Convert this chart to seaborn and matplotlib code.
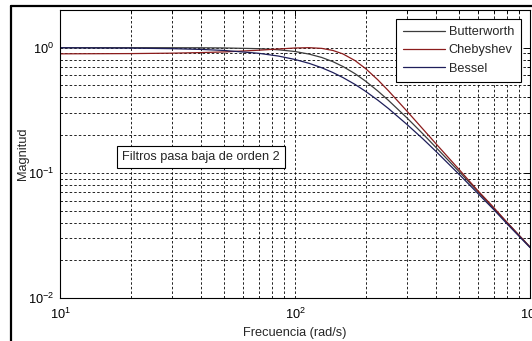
import numpy as np
import pandas as pd
import matplotlib
matplotlib.use('Agg')
import matplotlib.pyplot as plt
import seaborn as sns
from matplotlib.lines import Line2D
from matplotlib.ticker import LogLocator, FuncFormatter, NullFormatter

# ---- data ----
freq = [10, 20, 30, 40, 50, 70, 85, 100, 115, 130, 145, 160, 180, 200, 225,
        250, 300, 350, 400, 500, 600, 700, 800, 1000]
butterworth = [1.000, 1.000, 0.999, 0.998, 0.995, 0.982, 0.962, 0.932, 0.888,
               0.835, 0.773, 0.707, 0.620, 0.539, 0.451, 0.379, 0.274, 0.205,
               0.158, 0.102, 0.071, 0.052, 0.040, 0.0256]
chebyshev = [0.893, 0.897, 0.904, 0.914, 0.925, 0.954, 0.976, 0.994, 1.000,
             0.987, 0.950, 0.891, 0.789, 0.679, 0.554, 0.452, 0.310, 0.224,
             0.169, 0.106, 0.072, 0.053, 0.040, 0.0255]
bessel = [0.998, 0.992, 0.982, 0.968, 0.950, 0.902, 0.857, 0.805, 0.749,
          0.691, 0.633, 0.577, 0.509, 0.447, 0.381, 0.326, 0.243, 0.187,
          0.147, 0.097, 0.0685, 0.051, 0.039, 0.0253]
series_names = ["Butterworth", "Chebyshev", "Bessel"]
series_colors = ["#3c3c3c", "#8b1c1c", "#1e1e5a"]
x_label = "Frecuencia (rad/s)"
y_label = "Magnitud"
note = "Filtros pasa baja de orden 2"

df = pd.DataFrame({
    "freq": freq * 3,
    "mag": butterworth + chebyshev + bessel,
    "filtro": [series_names[0]] * len(freq) + [series_names[1]] * len(freq)
              + [series_names[2]] * len(freq),
})

FS = 9.2
sns.set_style("white")
plt.rcParams['font.family'] = ['Liberation Sans', 'DejaVu Sans']
plt.rcParams['mathtext.fontset'] = 'custom'
plt.rcParams['mathtext.rm'] = 'Liberation Sans'
plt.rcParams['mathtext.it'] = 'Liberation Sans'
plt.rcParams['font.size'] = FS

fig = plt.figure(figsize=(5.32, 3.41), dpi=100)
W, H = 532, 341
ax = fig.add_axes([60 / W, 1 - 298 / H, 470 / W, 288 / H])

sns.lineplot(data=df, x="freq", y="mag", hue="filtro", hue_order=series_names,
             palette=series_colors, linewidth=0.9, ax=ax, legend=False,
             estimator=None, sort=False)

ax.set_xscale('log')
ax.set_yscale('log')
ax.set_xlim(10, 1000)
ax.set_ylim(0.01, 2)

ax.xaxis.set_major_locator(LogLocator(base=10, numticks=10))
ax.yaxis.set_major_locator(LogLocator(base=10, numticks=10))
ax.xaxis.set_minor_locator(LogLocator(base=10, subs=np.arange(2, 10), numticks=20))
ax.yaxis.set_minor_locator(LogLocator(base=10, subs=np.arange(2, 10), numticks=20))
fmt = FuncFormatter(lambda v, p: r"$\mathregular{10^{%d}}$" % int(round(np.log10(v))))
ax.xaxis.set_major_formatter(fmt)
ax.yaxis.set_major_formatter(fmt)
ax.xaxis.set_minor_formatter(NullFormatter())
ax.yaxis.set_minor_formatter(NullFormatter())

ax.grid(True, which='both', color='black', linestyle=(0, (3, 2.5)), linewidth=0.6)
ax.set_axisbelow(True)
ax.tick_params(which='both', direction='in', top=True, right=True,
               colors='black', labelsize=FS, width=0.7)
ax.tick_params(which='major', length=4)
ax.tick_params(axis='x', which='major', pad=6)
ax.tick_params(axis='y', which='major', pad=4)
ax.tick_params(which='minor', length=2.5)
for s in ax.spines.values():
    s.set_color('black')
    s.set_linewidth(0.8)

ax.set_xlabel(x_label, fontsize=FS, labelpad=4)
ax.set_ylabel(y_label, fontsize=FS, va='center')
ax.yaxis.set_label_coords((23 - 60) / 470, 0.5)

handles = [Line2D([0], [0], color=c, linewidth=0.9) for c in series_colors]
leg = ax.legend(handles, series_names, loc='upper right',
                bbox_to_anchor=(521 / W, 1 - 19 / H), bbox_transform=fig.transFigure,
                borderaxespad=0, frameon=True, fancybox=False, fontsize=FS,
                handlelength=3.3, handletextpad=0.3, labelspacing=0.5,
                borderpad=0.55)
leg.get_frame().set_edgecolor('black')
leg.get_frame().set_linewidth(0.8)
leg.get_frame().set_alpha(1)

ax.text((122 - 60) / 470, (298 - 157) / 288, note, transform=ax.transAxes,
        ha='left', va='center', fontsize=FS,
        bbox=dict(boxstyle='square,pad=0.4', fc='white', ec='black', lw=0.8))

# outer frame of the window (left and top edges)
fig.add_artist(Line2D([11 / W, 11 / W], [0, 1 - 6 / H], transform=fig.transFigure,
                      color='black', linewidth=1.6))
fig.add_artist(Line2D([11 / W, 1], [1 - 6 / H, 1 - 6 / H], transform=fig.transFigure,
                      color='black', linewidth=1.6))

fig.savefig('out.png', dpi=100)
